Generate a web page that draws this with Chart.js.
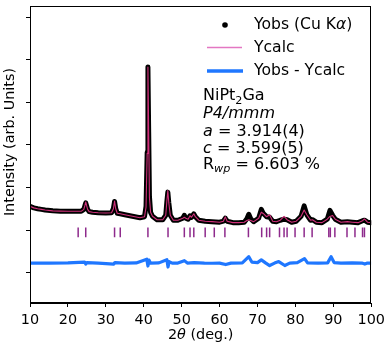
<!DOCTYPE html>
<html>
<head>
<meta charset="utf-8">
<script src="https://cdn.jsdelivr.net/npm/chart.js@4"></script>
<style>
  body { margin: 0; background: #fff; }
  #chart { display: block; }
</style>
</head>
<body>
<canvas id="chart" width="390" height="355"></canvas>
<script>
// observed / calculated pattern (2theta in deg, intensity in arb. units)
const twoTheta = [10, 11, 12, 13, 14, 16, 18, 20, 22, 23.5, 24.2, 24.5, 24.7, 24.9, 25.2, 25.6, 26.5, 28, 30, 31.5,
  32.0, 32.3, 32.6, 33.0, 33.8, 35, 37, 39, 40.2, 40.6, 40.9, 41.1, 41.3, 41.5, 41.8, 42.3, 43.5, 45, 45.8, 46.1,
  46.35, 46.6, 47.0, 47.8, 49, 50.3, 50.7, 51.1, 51.7, 52.2, 52.6, 53.2, 53.6, 54.5, 56.2, 58, 60, 61.0, 61.5, 62.0,
  63.5, 65, 66.5, 67.2, 67.7, 68.2, 69, 70.3, 71.0, 71.5, 72.4, 73.2, 74.0, 75, 76.0, 77.0, 77.8, 79, 80.2, 81.5,
  82.3, 83.0, 84.0, 84.5, 85.5, 87, 88.4, 89.1, 89.8, 90.5, 92, 93.7, 95, 96.5, 97.7, 98.2, 99, 100];
const yObs = [556, 521, 502, 486, 470, 451, 444, 440, 440, 440, 486, 579, 637, 579, 486, 433, 417, 405, 400, 405,
  509, 671, 509, 394, 382, 359, 324, 289, 313, 556, 1829, 3831, 2292, 787, 417, 324, 243, 243, 347, 671,
  891, 648, 347, 231, 231, 278, 347, 278, 255, 336, 301, 382, 313, 231, 208, 197, 185, 208, 278, 208,
  174, 174, 185, 266, 370, 266, 197, 278, 486, 394, 313, 301, 208, 197, 231, 255, 243, 185, 208, 324,
  567, 359, 231, 243, 185, 174, 255, 463, 347, 255, 185, 197, 185, 174, 220, 231, 185, 174];
const yCalc = [556, 521, 502, 486, 470, 451, 444, 440, 440, 440, 486, 585, 660, 585, 486, 433, 417, 405, 400, 405,
  500, 680, 500, 394, 382, 359, 324, 289, 313, 540, 1800, 3831, 2330, 760, 417, 324, 243, 243, 347, 690,
  930, 640, 347, 231, 231, 278, 300, 278, 255, 336, 301, 382, 313, 231, 208, 197, 185, 208, 310, 208,
  174, 174, 185, 225, 240, 225, 197, 278, 420, 390, 313, 360, 208, 197, 231, 320, 243, 185, 208, 324,
  470, 359, 231, 243, 185, 174, 255, 320, 340, 255, 185, 197, 185, 174, 220, 260, 185, 174];

// difference curve (offset below the pattern)
const diffTheta = [10, 15, 20, 24.4, 24.7, 25.0, 28, 32.1, 32.4, 35, 38, 40.8, 41.1, 41.4, 41.8, 44, 46.1, 46.4, 46.7,
  47.5, 49, 50.7, 51.5, 53.3, 56, 58, 60, 61.6, 63, 66, 67.7, 68.5, 70, 71, 72.2, 73.2, 74.5, 75.6, 77.2, 78.5,
  80.5, 82.4, 83.2, 86, 88.5, 89.4, 90.2, 92, 95, 97.5, 98.3, 99, 100];
const yDiff = [-776, -776, -771, -752, -799, -764, -776, -799, -764, -776, -771, -683, -845, -706, -776, -771, -695, -868, -741,
  -776, -776, -718, -776, -764, -776, -780, -776, -810, -776, -771, -625, -752, -764, -701, -776, -833, -776, -741, -833, -776,
  -764, -671, -771, -776, -771, -625, -764, -776, -771, -776, -799, -776, -776];

// Bragg reflection positions (NiPt2Ga, P4/mmm)
const braggTheta = [22.7, 24.7, 32.3, 33.8, 41.1, 46.4, 50.7, 52.2, 53.2, 56.2, 58.6, 61.4, 67.6, 71.1, 72.4, 73.2,
  75.8, 77.0, 77.8, 79.9, 82.3, 84.4, 88.8, 89.2, 90.4, 93.6, 95.7, 97.7, 98.2];
const braggLevel = -55;

// axis ticks (y ticks carry no labels)
const xTickStep = 10;
const yTickValues = [-1000, 0, 1000, 2000, 3000, 4000, 5000];

const toXY = (xs, ys) => xs.map((x, i) => ({ x: x, y: ys[i] }));

const FONT = '"DejaVu Sans", "Liberation Sans", sans-serif';

// draw text made of pieces, some italic or subscript
function setPartFont(ctx, p, size) {
    const s = p.sub ? size * 0.7 : size;
    ctx.font = (p.it ? 'italic ' : '') + s + 'px ' + FONT;
}
function richWidth(ctx, parts, size) {
    let w = 0;
    parts.forEach(p => { setPartFont(ctx, p, size); w += ctx.measureText(p.t).width; });
    return w;
}
function drawRich(ctx, x, y, parts, size) {
    let cx = x;
    parts.forEach(p => {
        setPartFont(ctx, p, size);
        ctx.fillText(p.t, cx, p.sub ? y + size * 0.22 : y);
        cx += ctx.measureText(p.t).width;
    });
}

const decorPlugin = {
    id: 'decor',
    afterDraw(chart) {
        const ctx = chart.ctx;
        const a = chart.chartArea;
        ctx.save();
        // frame around the axes
        ctx.strokeStyle = '#000';
        ctx.lineWidth = 1;
        ctx.strokeRect(Math.round(a.left) + 0.5, Math.round(a.top) + 0.5,
            Math.round(a.right - a.left) - 1, Math.round(a.bottom - a.top) - 1);

        // x axis title, with italic theta
        ctx.fillStyle = '#000';
        ctx.textBaseline = 'middle';
        ctx.textAlign = 'left';
        const xTitle = [{ t: '2' }, { t: 'θ', it: true }, { t: ' (deg.)' }];
        const w = richWidth(ctx, xTitle, 14.4);
        drawRich(ctx, (a.left + a.right) / 2 - w / 2, 335, xTitle, 14.4);

        // y axis title
        ctx.font = '14.4px ' + FONT;
        ctx.translate(10, 142);
        ctx.rotate(-Math.PI / 2);
        ctx.textAlign = 'center';
        ctx.fillText('Intensity (arb. Units)', 0, 0);
        ctx.restore();

        // legend
        ctx.save();
        ctx.fillStyle = '#000';
        ctx.textBaseline = 'middle';
        ctx.textAlign = 'left';
        ctx.beginPath();
        ctx.arc(225, 25, 2.8, 0, Math.PI * 2);
        ctx.fill();
        drawRich(ctx, 254, 25, [{ t: 'Yobs (Cu K' }, { t: 'α', it: true }, { t: ')' }], 15.6);
        ctx.strokeStyle = '#e377c2';
        ctx.lineWidth = 1.3;
        ctx.beginPath(); ctx.moveTo(207, 47.5); ctx.lineTo(242, 47.5); ctx.stroke();
        drawRich(ctx, 254, 48, [{ t: 'Ycalc' }], 15.6);
        ctx.strokeStyle = '#1f77ff';
        ctx.lineWidth = 3.5;
        ctx.beginPath(); ctx.moveTo(207, 71); ctx.lineTo(243, 71); ctx.stroke();
        drawRich(ctx, 254, 71, [{ t: 'Yobs - Ycalc' }], 15.6);

        // sample info
        ctx.textBaseline = 'alphabetic';
        drawRich(ctx, 203, 100, [{ t: 'NiPt' }, { t: '2', sub: true }, { t: 'Ga' }], 16);
        drawRich(ctx, 203, 118, [{ t: 'P4/mmm', it: true }], 16);
        drawRich(ctx, 203, 135.5, [{ t: 'a', it: true }, { t: ' = 3.914(4)' }], 16);
        drawRich(ctx, 203, 152.5, [{ t: 'c', it: true }, { t: ' = 3.599(5)' }], 16);
        drawRich(ctx, 203, 168.5, [{ t: 'R' }, { t: 'wp', it: true, sub: true }, { t: ' = 6.603 %' }], 16);
        ctx.restore();
    }
};

new Chart(document.getElementById('chart'), {
    type: 'line',
    data: {
        datasets: [
            {
                label: 'Ycalc',
                data: toXY(twoTheta, yCalc),
                borderColor: '#d0307a',
                borderWidth: 1.1,
                borderJoinStyle: 'round',
                pointRadius: 0,
                tension: 0,
                order: 0
            },
            {
                label: 'Yobs (Cu Kα)',
                data: toXY(twoTheta, yObs),
                borderColor: '#000',
                borderWidth: 5,
                borderJoinStyle: 'round',
                borderCapStyle: 'round',
                pointRadius: 0,
                tension: 0,
                order: 1
            },
            {
                label: 'Yobs - Ycalc',
                data: toXY(diffTheta, yDiff),
                borderColor: '#1f77ff',
                borderWidth: 3.2,
                borderJoinStyle: 'round',
                pointRadius: 0,
                tension: 0,
                order: 2
            },
            {
                label: 'hkl',
                data: braggTheta.map(x => ({ x: x, y: braggLevel })),
                showLine: false,
                pointStyle: 'line',
                pointRotation: 90,
                pointRadius: 4.8,
                pointBorderWidth: 1.5,
                pointBorderColor: '#8e2a8c',
                borderColor: '#8e2a8c',
                order: 3
            }
        ]
    },
    options: {
        responsive: false,
        animation: false,
        devicePixelRatio: 1,
        layout: { padding: { top: 2, right: 17, left: 0, bottom: 0 } },
        plugins: { legend: { display: false }, tooltip: { enabled: false } },
        scales: {
            x: {
                type: 'linear',
                min: 10,
                max: 100,
                afterFit: s => { s.height = 52; },
                ticks: {
                    stepSize: xTickStep,
                    color: '#000',
                    padding: 5,
                    maxRotation: 0,
                    font: { family: FONT, size: 14.4 }
                },
                grid: { drawOnChartArea: false, drawTicks: true, tickLength: 4, color: '#000' },
                border: { display: true, color: '#000', width: 1 }
            },
            y: {
                type: 'linear',
                min: -1713,
                max: 5255,
                afterFit: s => { s.width = 30; },
                afterBuildTicks: s => { s.ticks = yTickValues.map(v => ({ value: v })); },
                ticks: { display: false },
                grid: { drawOnChartArea: false, drawTicks: true, tickLength: 4, color: '#000' },
                border: { display: true, color: '#000', width: 1 }
            }
        }
    },
    plugins: [decorPlugin]
});
</script>
</body>
</html>
